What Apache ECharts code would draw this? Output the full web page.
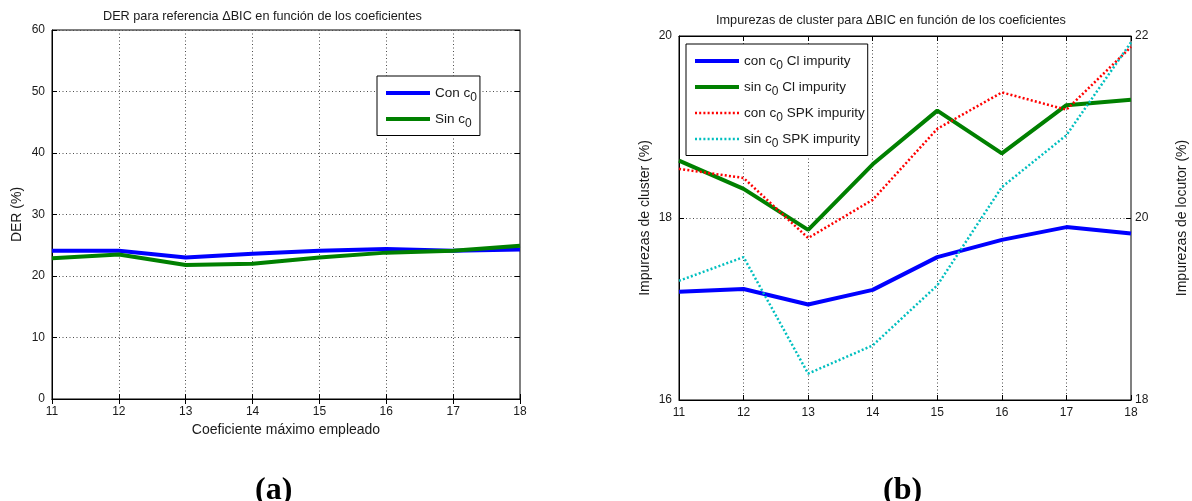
<!DOCTYPE html>
<html>
<head>
<meta charset="utf-8">
<script src="https://cdn.jsdelivr.net/npm/echarts@6/dist/echarts.min.js"></script>
<style>
  html, body { margin: 0; padding: 0; background: #fff; }
  #chart { width: 1192px; height: 501px; }
</style>
</head>
<body>
<div id="chart"></div>
<script>
// Maximum cepstral coefficient used
const coefs = ['11', '12', '13', '14', '15', '16', '17', '18'];

// (a) DER (%)
const derConC0 = [24.1, 24.1, 23.0, 23.6, 24.1, 24.4, 24.1, 24.3];
const derSinC0 = [22.9, 23.5, 21.8, 22.0, 23.0, 23.8, 24.1, 24.9];

// (b) cluster impurity (%), left axis
const clConC0 = [17.19, 17.22, 17.05, 17.21, 17.57, 17.76, 17.90, 17.83];
const clSinC0 = [18.63, 18.32, 17.87, 18.59, 19.18, 18.71, 19.24, 19.30];

// (b) speaker impurity (%), right axis
const spkConC0 = [20.54, 20.44, 19.78, 20.20, 20.98, 21.38, 21.19, 21.88];
const spkSinC0 = [19.31, 19.57, 18.29, 18.60, 19.26, 20.34, 20.91, 21.93];

const FONT = '"Liberation Sans", Arial, Helvetica, sans-serif';
const SERIF = '"Liberation Serif", "Times New Roman", serif';
const TXT = '#1a1a1a';
const BLUE = '#0000ff', GREEN = '#008000', RED = '#ff0000', CYAN = '#00bfbf';
const DOTS = [2, 2.2];

const gridLine = { show: true, lineStyle: { color: '#4d4d4d', width: 1, type: [1, 2.5] } };
const tickIn = { show: true, inside: true, length: 5, lineStyle: { color: '#000' } };

// Legend names carry "c0" — render the 0 as a subscript
function subFmt(name) {
  const i = name.indexOf('c0');
  const pre = name.slice(0, i + 1);
  const post = name.slice(i + 2);
  return '{t|' + pre + '}{s|0}' + (post ? '{t|' + post + '}' : '');
}
const legendRich = {
  t: { fontSize: 13.5, fontFamily: FONT, color: TXT },
  s: { fontSize: 12, fontFamily: FONT, color: TXT, padding: [9, 0, 0, 0] }
};

function legendItem(name, color, width, dotted) {
  return {
    name: name,
    lineStyle: { color: color, width: width, type: dotted ? DOTS : 'solid' },
    itemStyle: { opacity: 0 }
  };
}
function legendBox(left, top, items) {
  return {
    orient: 'vertical', left: left, top: top, data: items,
    itemWidth: 44, itemHeight: 12, itemGap: 8.5,
    padding: [10, 3, 6, 7],
    backgroundColor: '#fff', borderColor: '#000', borderWidth: 1, borderRadius: 0,
    itemStyle: { opacity: 0 },
    formatter: subFmt, textStyle: { rich: legendRich }, selectedMode: false
  };
}

function bottomX(grid, name) {
  return {
    type: 'category', gridIndex: grid, data: coefs, boundaryGap: false,
    position: 'bottom',
    axisLine: { show: true, lineStyle: { color: '#000', width: 1 } },
    axisTick: tickIn,
    axisLabel: { color: TXT, fontFamily: FONT, fontSize: 12, margin: 7 },
    splitLine: gridLine,
    name: name || '', nameLocation: 'middle', nameGap: 24,
    nameTextStyle: { color: TXT, fontFamily: FONT, fontSize: 14 }
  };
}
function topX(grid) {
  return {
    type: 'category', gridIndex: grid, data: coefs, boundaryGap: false,
    position: 'top',
    axisLine: { show: true, lineStyle: { color: '#000', width: 1 } },
    axisTick: tickIn, axisLabel: { show: false }, splitLine: { show: false }
  };
}

const option = {
  animation: false,
  backgroundColor: '#fff',
  title: [
    { text: 'DER para referencia ΔBIC en función de los coeficientes', left: 98, top: 5,
      textStyle: { color: TXT, fontFamily: FONT, fontSize: 12.7, fontWeight: 'normal' } },
    { text: 'Impurezas de cluster para ΔBIC en función de los coeficientes', left: 711, top: 9,
      textStyle: { color: TXT, fontFamily: FONT, fontSize: 12.7, fontWeight: 'normal' } },
    { text: '(a)', left: 250, top: 470,
      textStyle: { color: '#000', fontFamily: SERIF, fontSize: 32, fontWeight: 'bold' } },
    { text: '(b)', left: 878, top: 470,
      textStyle: { color: '#000', fontFamily: SERIF, fontSize: 32, fontWeight: 'bold' } }
  ],
  grid: [
    { left: 52, top: 30, width: 468, height: 369, show: true, borderColor: '#000', borderWidth: 1 },
    { left: 679, top: 36, width: 452, height: 364, show: true, borderColor: '#000', borderWidth: 1 }
  ],
  legend: [
    legendBox(377, 76, [
      legendItem('Con c0', BLUE, 4),
      legendItem('Sin c0', GREEN, 4)
    ]),
    legendBox(686, 44, [
      legendItem('con c0 Cl impurity', BLUE, 4),
      legendItem('sin c0 Cl impurity', GREEN, 4),
      legendItem('con c0 SPK impurity', RED, 2.5, true),
      legendItem('sin c0 SPK impurity', CYAN, 2.5, true)
    ])
  ],
  xAxis: [
    bottomX(0, 'Coeficiente máximo empleado'), topX(0),
    bottomX(1), topX(1)
  ],
  yAxis: [
    {
      type: 'value', gridIndex: 0, min: 0, max: 60, interval: 10, position: 'left',
      axisLine: { show: true, lineStyle: { color: '#000' } }, axisTick: tickIn,
      axisLabel: { color: TXT, fontFamily: FONT, fontSize: 12, margin: 7 },
      splitLine: gridLine,
      name: 'DER (%)', nameLocation: 'middle', nameGap: 28,
      nameTextStyle: { color: TXT, fontFamily: FONT, fontSize: 14 }
    },
    {
      type: 'value', gridIndex: 0, min: 0, max: 60, interval: 10, position: 'right',
      axisLine: { show: true, lineStyle: { color: '#808080' } }, axisTick: tickIn,
      axisLabel: { show: false }, splitLine: { show: false }
    },
    {
      type: 'value', gridIndex: 1, min: 16, max: 20, interval: 2, position: 'left',
      axisLine: { show: true, lineStyle: { color: '#000' } }, axisTick: tickIn,
      axisLabel: { color: TXT, fontFamily: FONT, fontSize: 12, margin: 7 },
      splitLine: gridLine,
      name: 'Impurezas de cluster (%)', nameLocation: 'middle', nameGap: 27,
      nameTextStyle: { color: TXT, fontFamily: FONT, fontSize: 14 }
    },
    {
      type: 'value', gridIndex: 1, min: 18, max: 22, interval: 2, position: 'right',
      axisLine: { show: true, lineStyle: { color: '#808080' } }, axisTick: tickIn,
      axisLabel: { color: TXT, fontFamily: FONT, fontSize: 12, margin: 4 },
      splitLine: { show: false },
      name: 'Impurezas de locutor (%)', nameLocation: 'middle', nameGap: 44,
      nameTextStyle: { color: TXT, fontFamily: FONT, fontSize: 14 }
    }
  ],
  series: [
    { name: 'Con c0', type: 'line', xAxisIndex: 0, yAxisIndex: 0, data: derConC0,
      symbol: 'none', color: BLUE, lineStyle: { color: BLUE, width: 4 } },
    { name: 'Sin c0', type: 'line', xAxisIndex: 0, yAxisIndex: 0, data: derSinC0,
      symbol: 'none', color: GREEN, lineStyle: { color: GREEN, width: 4 } },
    { name: 'con c0 Cl impurity', type: 'line', xAxisIndex: 2, yAxisIndex: 2, data: clConC0,
      symbol: 'none', color: BLUE, lineStyle: { color: BLUE, width: 4 } },
    { name: 'sin c0 Cl impurity', type: 'line', xAxisIndex: 2, yAxisIndex: 2, data: clSinC0,
      symbol: 'none', color: GREEN, lineStyle: { color: GREEN, width: 4 } },
    { name: 'con c0 SPK impurity', type: 'line', xAxisIndex: 2, yAxisIndex: 3, data: spkConC0,
      symbol: 'none', color: RED, lineStyle: { color: RED, width: 2.5, type: DOTS } },
    { name: 'sin c0 SPK impurity', type: 'line', xAxisIndex: 2, yAxisIndex: 3, data: spkSinC0,
      symbol: 'none', color: CYAN, lineStyle: { color: CYAN, width: 2.5, type: DOTS } }
  ]
};

const chart = echarts.init(document.getElementById('chart'), null, { renderer: 'canvas' });
chart.setOption(option);
</script>
</body>
</html>
